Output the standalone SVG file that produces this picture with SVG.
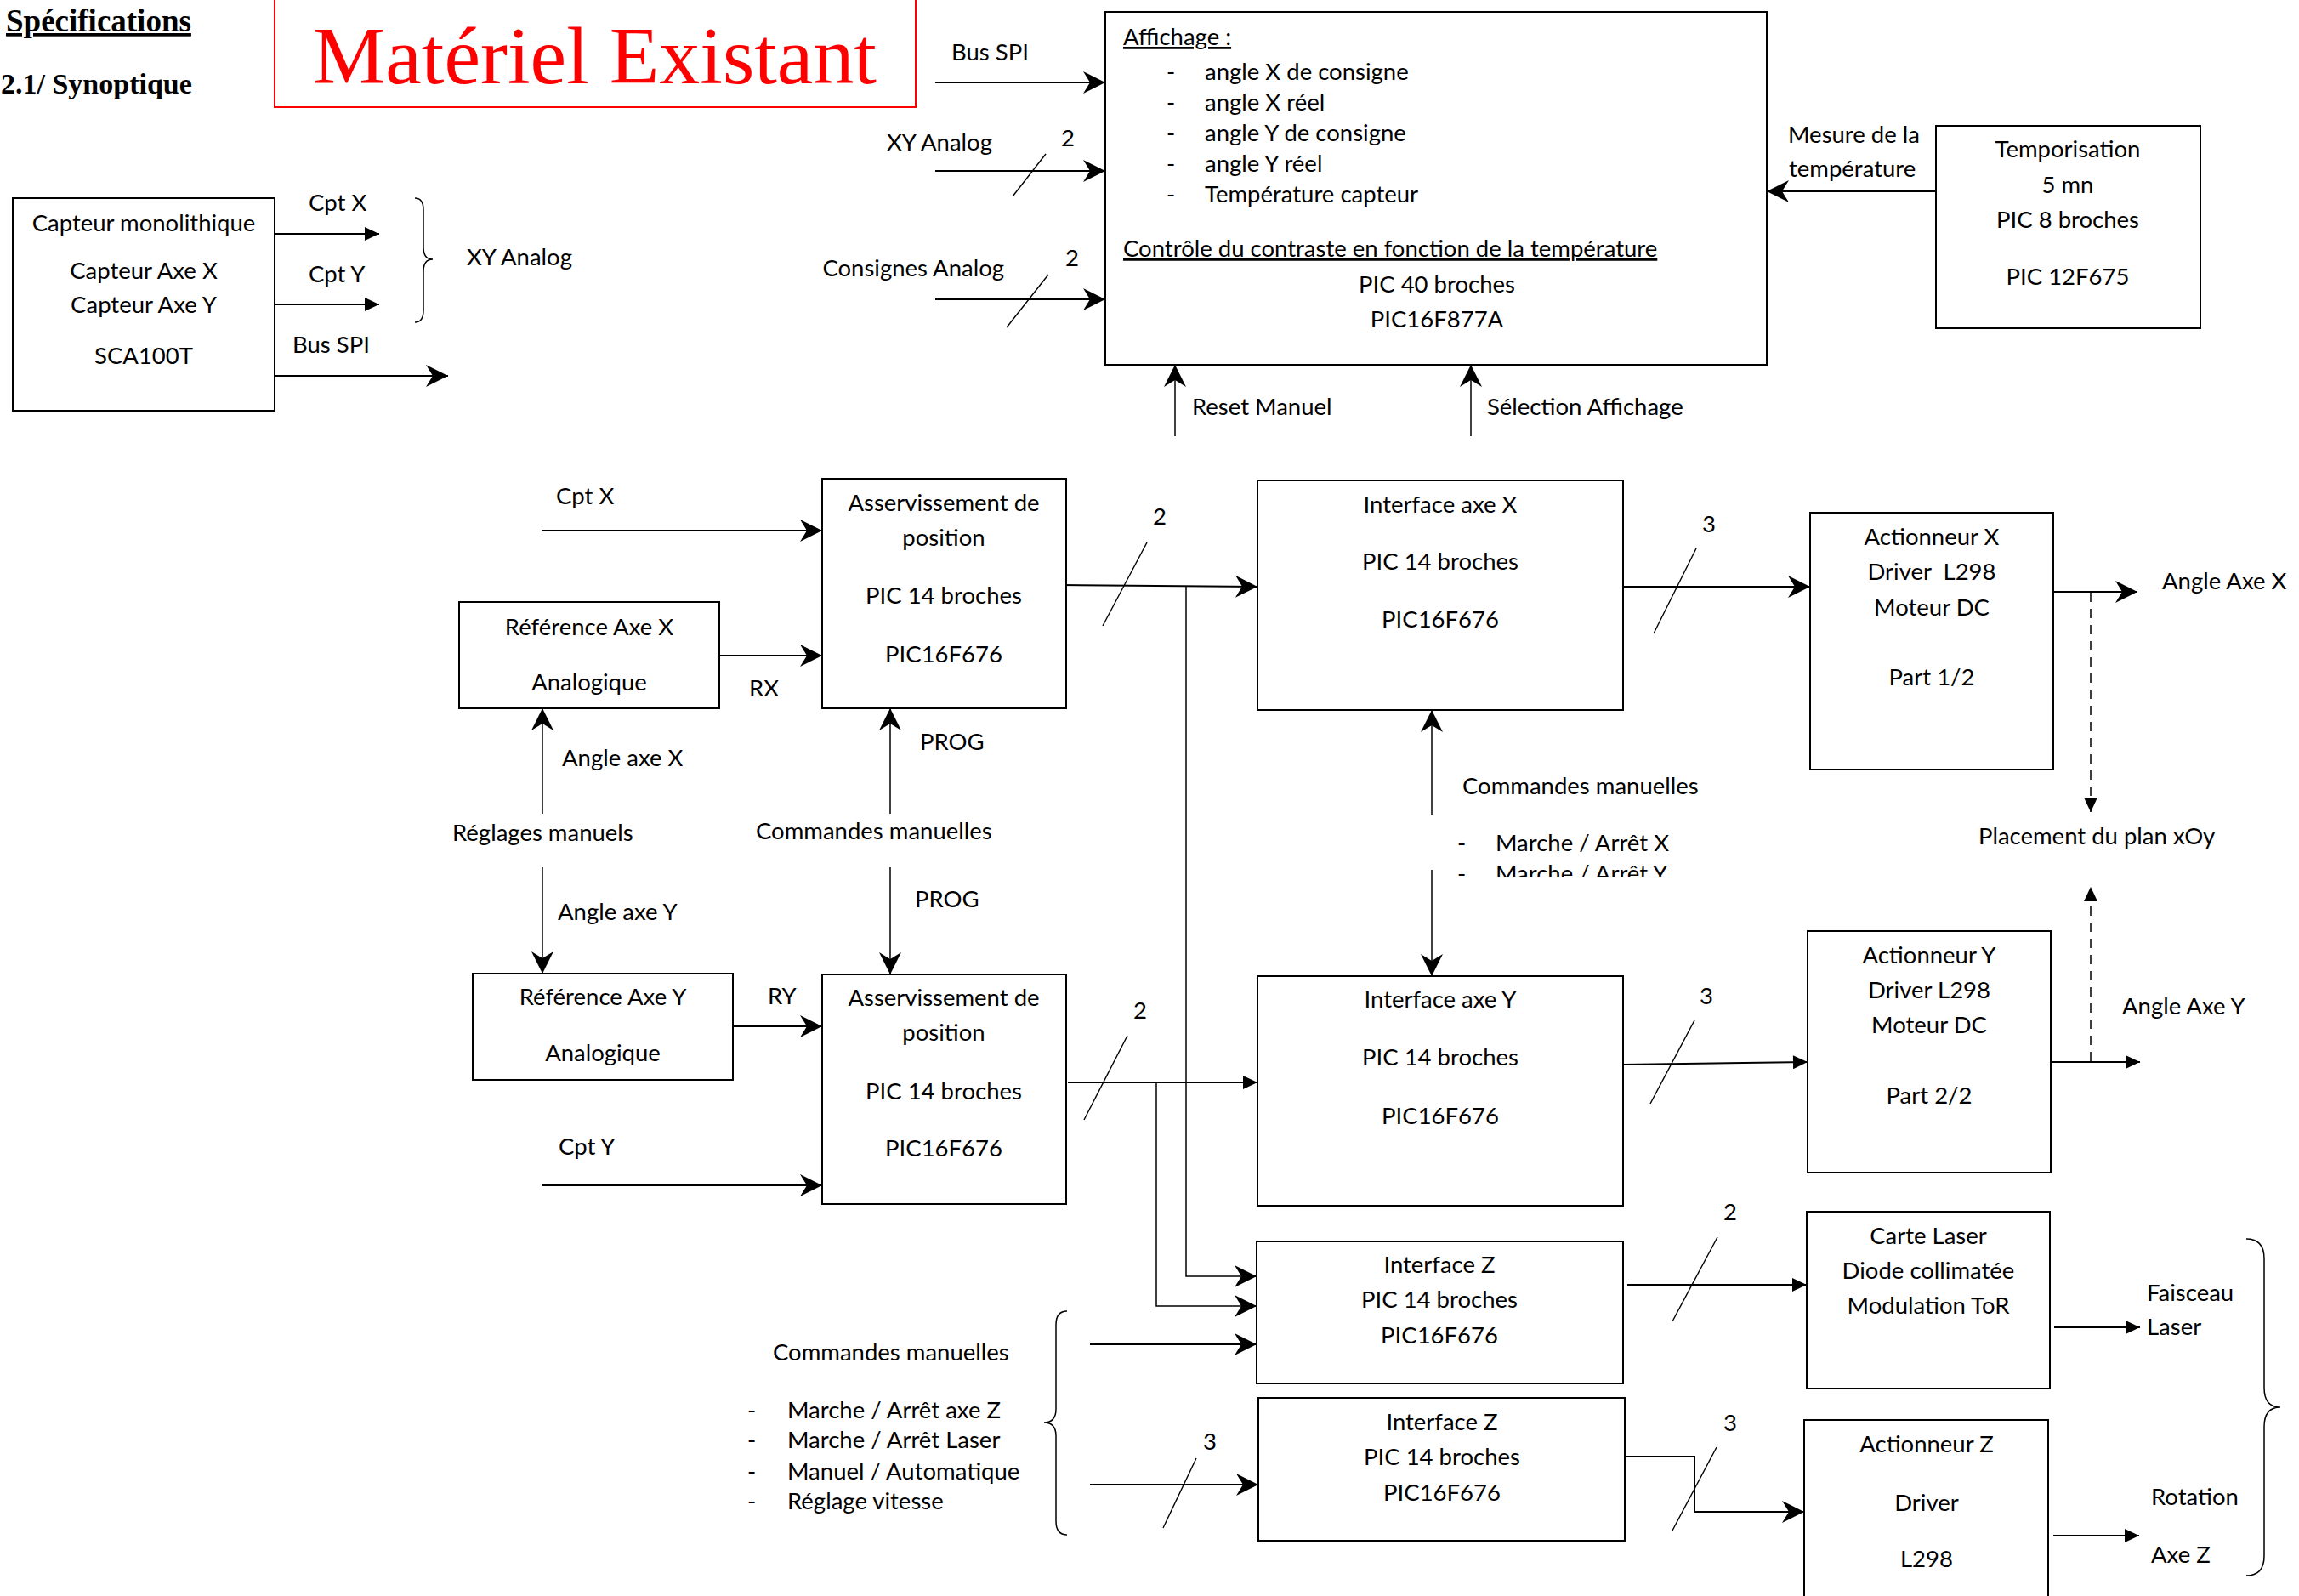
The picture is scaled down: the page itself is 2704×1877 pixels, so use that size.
<svg xmlns="http://www.w3.org/2000/svg" width="2704" height="1877" viewBox="0 0 2704 1877">
  <style>
    .bg { fill: #ffffff; }
    .box { fill: #ffffff; stroke: #000; stroke-width: 2; }
    .t { font-family: Lato, "Open Sans", "Liberation Sans", sans-serif; font-size: 27.5px; fill: #000; }
    .c { text-anchor: middle; }
    .u { text-decoration: underline; }
    .hdr { font-family: "Liberation Serif", "Times New Roman", serif; font-weight: bold; fill: #000; }
    .title { font-family: "Liberation Serif", "Times New Roman", serif; font-size: 96px; fill: #ff0000; }
    .ln { fill: none; stroke: #000; stroke-width: 2; }
    .thin { fill: none; stroke: #000; stroke-width: 1.5; }
    .sl { fill: none; stroke: #000; stroke-width: 1.4; }
    .dash { fill: none; stroke: #000; stroke-width: 1.5; stroke-dasharray: 11 8; }
    .st { marker-end: url(#stealth); }
    .tr { marker-end: url(#tri); }
  </style>
  <defs>
    <marker id="stealth" viewBox="-28 -14 30 28" markerWidth="30" markerHeight="28" refX="0" refY="0" orient="auto" markerUnits="userSpaceOnUse">
      <path d="M0,0 L-26,-13 L-18,0 L-26,13 Z" fill="#000"/>
    </marker>
    <marker id="tri" viewBox="-18 -9 20 18" markerWidth="20" markerHeight="18" refX="0" refY="0" orient="auto" markerUnits="userSpaceOnUse">
      <path d="M0,0 L-17,-8 L-17,8 Z" fill="#000"/>
    </marker>
    <clipPath id="clipList">
      <rect x="1700" y="990" width="400" height="41"/>
    </clipPath>
  </defs>

  <rect class="bg" x="0" y="0" width="2704" height="1877"/>

  <!-- page headings -->
  <g id="heading">
    <text class="hdr u" x="7" y="37" font-size="37">Spécifications</text>
    <text class="hdr" x="1" y="110" font-size="34">2.1/ Synoptique</text>
  </g>
  <g id="title">
    <rect x="323" y="-5" width="754" height="131" fill="none" stroke="#ff0000" stroke-width="2"/>
    <text class="title" x="368" y="98" textLength="663" lengthAdjust="spacingAndGlyphs">Matériel Existant</text>
  </g>

  <!-- connectors -->
  <g id="connectors">
    <line class="ln tr" x1="323" y1="275" x2="446" y2="275"/>
    <line class="ln tr" x1="323" y1="358" x2="446" y2="358"/>
    <line class="ln st" x1="323" y1="442" x2="527" y2="442"/>
    <path class="thin" d="M488,233 Q498,233 498,247 L498,291 Q498,305 509,305 Q498,305 498,319 L498,365 Q498,379 488,379"/>

    <line class="ln st" x1="1100" y1="97" x2="1300" y2="97"/>
    <line class="ln st" x1="1100" y1="201" x2="1300" y2="201"/>
    <line class="sl" x1="1191" y1="231" x2="1230" y2="181"/>
    <line class="ln st" x1="1100" y1="352" x2="1300" y2="352"/>
    <line class="sl" x1="1184" y1="385" x2="1233" y2="323"/>
    <line class="thin st" x1="1382" y1="513" x2="1382" y2="429"/>
    <line class="thin st" x1="1730" y1="513" x2="1730" y2="429"/>
    <line class="ln st" x1="2277" y1="225" x2="2078" y2="225"/>

    <line class="ln st" x1="638" y1="624" x2="967" y2="624"/>
    <line class="ln st" x1="846" y1="771" x2="967" y2="771"/>
    <line class="thin st" x1="638" y1="957" x2="638" y2="833"/>
    <line class="thin st" x1="1047" y1="957" x2="1047" y2="833"/>
    <line class="thin st" x1="638" y1="1020" x2="638" y2="1145"/>
    <line class="thin st" x1="1047" y1="1020" x2="1047" y2="1146"/>
    <line class="ln st" x1="862" y1="1207" x2="967" y2="1207"/>
    <line class="ln st" x1="638" y1="1394" x2="967" y2="1394"/>

    <line class="ln st" x1="1247" y1="688" x2="1479" y2="690"/>
    <line class="sl" x1="1297" y1="736" x2="1349" y2="638"/>
    <polyline class="thin st" points="1395,689 1395,1501 1478,1501"/>
    <line class="ln tr" x1="1256" y1="1273" x2="1479" y2="1273"/>
    <line class="sl" x1="1275" y1="1317" x2="1326" y2="1218"/>
    <polyline class="thin st" points="1360,1273 1360,1536 1478,1536"/>

    <line class="ln st" x1="1282" y1="1581" x2="1478" y2="1581"/>
    <line class="ln st" x1="1282" y1="1746" x2="1480" y2="1746"/>
    <line class="sl" x1="1368" y1="1797" x2="1407" y2="1715"/>
    <path class="thin" d="M1255,1542 Q1242,1542 1242,1558 L1242,1657 Q1242,1673 1228,1673 Q1242,1673 1242,1689 L1242,1789 Q1242,1805 1255,1805"/>

    <line class="ln st" x1="1909" y1="690" x2="2129" y2="690"/>
    <line class="sl" x1="1945" y1="745" x2="1995" y2="645"/>
    <line class="thin st" x1="1684" y1="959" x2="1684" y2="835"/>
    <line class="thin st" x1="1684" y1="1023" x2="1684" y2="1148"/>
    <line class="ln tr" x1="1909" y1="1252" x2="2126" y2="1249"/>
    <line class="sl" x1="1941" y1="1298" x2="1993" y2="1200"/>

    <line class="ln st" x1="2415" y1="696" x2="2514" y2="696"/>
    <line class="dash tr" x1="2459" y1="697" x2="2459" y2="955"/>
    <line class="dash tr" x1="2459" y1="1248" x2="2459" y2="1043"/>
    <line class="ln tr" x1="2412" y1="1249" x2="2517" y2="1249"/>

    <line class="ln tr" x1="1914" y1="1511" x2="2125" y2="1511"/>
    <line class="sl" x1="1967" y1="1554" x2="2020" y2="1455"/>
    <line class="ln tr" x1="2416" y1="1561" x2="2517" y2="1561"/>
    <polyline class="ln st" points="1911,1713 1993,1713 1993,1778 2122,1778"/>
    <line class="sl" x1="1967" y1="1800" x2="2019" y2="1702"/>
    <line class="ln tr" x1="2415" y1="1806" x2="2516" y2="1806"/>
    <path class="thin" d="M2642,1457 Q2663,1457 2663,1480 L2663,1632 Q2663,1655 2682,1655 Q2663,1655 2663,1678 L2663,1830 Q2663,1853 2642,1853"/>
  </g>

  <!-- signal labels -->
  <g id="labels">
    <text class="t" x="363" y="248">Cpt X</text>
    <text class="t" x="363" y="332">Cpt Y</text>
    <text class="t" x="344" y="415">Bus SPI</text>
    <text class="t" x="549" y="312">XY Analog</text>

    <text class="t" x="1119" y="71">Bus SPI</text>
    <text class="t" x="1043" y="177">XY Analog</text>
    <text class="t c" x="1256" y="172">2</text>
    <text class="t" x="1181" y="325" text-anchor="end">Consignes Analog</text>
    <text class="t c" x="1261" y="313">2</text>
    <text class="t" x="1402" y="488">Reset Manuel</text>
    <text class="t" x="1749" y="488">Sélection Affichage</text>
    <text class="t" x="2103" y="168">Mesure de la</text>
    <text class="t" x="2104" y="208">température</text>

    <text class="t" x="654" y="593">Cpt X</text>
    <text class="t" x="881" y="819">RX</text>
    <text class="t" x="661" y="901">Angle axe X</text>
    <text class="t" x="532" y="989">Réglages manuels</text>
    <text class="t" x="1082" y="882">PROG</text>
    <text class="t" x="889" y="987">Commandes manuelles</text>
    <text class="t" x="1076" y="1067">PROG</text>
    <text class="t" x="656" y="1082">Angle axe Y</text>
    <text class="t" x="903" y="1181">RY</text>
    <text class="t" x="657" y="1358">Cpt Y</text>
    <text class="t c" x="1364" y="617">2</text>
    <text class="t c" x="1341" y="1198">2</text>

    <text class="t" x="1720" y="934">Commandes manuelles</text>
    <text class="t" x="1714" y="1001">-</text>
    <text class="t" x="1759" y="1001">Marche / Arrêt X</text>
    <g clip-path="url(#clipList)">
      <text class="t" x="1714" y="1037">-</text>
      <text class="t" x="1759" y="1037">Marche / Arrêt Y</text>
    </g>
    <text class="t c" x="2010" y="626">3</text>
    <text class="t c" x="2007" y="1181">3</text>

    <text class="t" x="2543" y="693">Angle Axe X</text>
    <text class="t" x="2327" y="993">Placement du plan xOy</text>
    <text class="t" x="2496" y="1193">Angle Axe Y</text>

    <text class="t c" x="2035" y="1435">2</text>
    <text class="t c" x="2035" y="1683">3</text>
    <text class="t c" x="1423" y="1705">3</text>
    <text class="t" x="2525" y="1530">Faisceau</text>
    <text class="t" x="2525" y="1570">Laser</text>
    <text class="t" x="2530" y="1770">Rotation</text>
    <text class="t" x="2530" y="1838">Axe Z</text>

    <text class="t" x="909" y="1600">Commandes manuelles</text>
    <text class="t" x="879" y="1668">-</text>
    <text class="t" x="926" y="1668">Marche / Arrêt axe Z</text>
    <text class="t" x="879" y="1703">-</text>
    <text class="t" x="926" y="1703">Marche / Arrêt Laser</text>
    <text class="t" x="879" y="1740">-</text>
    <text class="t" x="926" y="1740">Manuel / Automatique</text>
    <text class="t" x="879" y="1775">-</text>
    <text class="t" x="926" y="1775">Réglage vitesse</text>
  </g>

  <!-- blocks -->
  <g id="capteur">
    <rect class="box" x="15" y="233" width="308" height="250"/>
    <text class="t c" x="169" y="272">Capteur monolithique</text>
    <text class="t c" x="169" y="328">Capteur Axe X</text>
    <text class="t c" x="169" y="368">Capteur Axe Y</text>
    <text class="t c" x="169" y="428">SCA100T</text>
  </g>

  <g id="affichage">
    <rect class="box" x="1300" y="14" width="778" height="415"/>
    <text class="t u" x="1321" y="53">Affichage :</text>
    <text class="t" x="1372" y="94">-</text>
    <text class="t" x="1417" y="94">angle X de consigne</text>
    <text class="t" x="1372" y="130">-</text>
    <text class="t" x="1417" y="130">angle X réel</text>
    <text class="t" x="1372" y="166">-</text>
    <text class="t" x="1417" y="166">angle Y de consigne</text>
    <text class="t" x="1372" y="202">-</text>
    <text class="t" x="1417" y="202">angle Y réel</text>
    <text class="t" x="1372" y="238">-</text>
    <text class="t" x="1417" y="238">Température capteur</text>
    <text class="t u" x="1321" y="302">Contrôle du contraste en fonction de la température</text>
    <text class="t c" x="1690" y="344">PIC 40 broches</text>
    <text class="t c" x="1690" y="385">PIC16F877A</text>
  </g>

  <g id="temporisation">
    <rect class="box" x="2277" y="148" width="311" height="238"/>
    <text class="t c" x="2432" y="185">Temporisation</text>
    <text class="t c" x="2432" y="227">5 mn</text>
    <text class="t c" x="2432" y="268">PIC 8 broches</text>
    <text class="t c" x="2432" y="335">PIC 12F675</text>
  </g>

  <g id="asservissement-x">
    <rect class="box" x="967" y="563" width="287" height="270"/>
    <text class="t c" x="1110" y="601">Asservissement de</text>
    <text class="t c" x="1110" y="642">position</text>
    <text class="t c" x="1110" y="710">PIC 14 broches</text>
    <text class="t c" x="1110" y="779">PIC16F676</text>
  </g>

  <g id="reference-x">
    <rect class="box" x="540" y="708" width="306" height="125"/>
    <text class="t c" x="693" y="747">Référence Axe X</text>
    <text class="t c" x="693" y="812">Analogique</text>
  </g>

  <g id="reference-y">
    <rect class="box" x="556" y="1145" width="306" height="125"/>
    <text class="t c" x="709" y="1182">Référence Axe Y</text>
    <text class="t c" x="709" y="1248">Analogique</text>
  </g>

  <g id="asservissement-y">
    <rect class="box" x="967" y="1146" width="287" height="270"/>
    <text class="t c" x="1110" y="1183">Asservissement de</text>
    <text class="t c" x="1110" y="1224">position</text>
    <text class="t c" x="1110" y="1293">PIC 14 broches</text>
    <text class="t c" x="1110" y="1360">PIC16F676</text>
  </g>

  <g id="interface-x">
    <rect class="box" x="1479" y="565" width="430" height="270"/>
    <text class="t c" x="1694" y="603">Interface axe X</text>
    <text class="t c" x="1694" y="670">PIC 14 broches</text>
    <text class="t c" x="1694" y="738">PIC16F676</text>
  </g>

  <g id="interface-y">
    <rect class="box" x="1479" y="1148" width="430" height="270"/>
    <text class="t c" x="1694" y="1185">Interface axe Y</text>
    <text class="t c" x="1694" y="1253">PIC 14 broches</text>
    <text class="t c" x="1694" y="1322">PIC16F676</text>
  </g>

  <g id="interface-z-laser">
    <rect class="box" x="1478" y="1460" width="431" height="167"/>
    <text class="t c" x="1693" y="1497">Interface Z</text>
    <text class="t c" x="1693" y="1538">PIC 14 broches</text>
    <text class="t c" x="1693" y="1580">PIC16F676</text>
  </g>

  <g id="interface-z-moteur">
    <rect class="box" x="1480" y="1644" width="431" height="168"/>
    <text class="t c" x="1696" y="1682">Interface Z</text>
    <text class="t c" x="1696" y="1723">PIC 14 broches</text>
    <text class="t c" x="1696" y="1765">PIC16F676</text>
  </g>

  <g id="actionneur-x">
    <rect class="box" x="2129" y="603" width="286" height="302"/>
    <text class="t c" x="2272" y="641">Actionneur X</text>
    <text class="t c" x="2272" y="682" xml:space="preserve">Driver  L298</text>
    <text class="t c" x="2272" y="724">Moteur DC</text>
    <text class="t c" x="2272" y="806">Part 1/2</text>
  </g>

  <g id="actionneur-y">
    <rect class="box" x="2126" y="1095" width="286" height="284"/>
    <text class="t c" x="2269" y="1133">Actionneur Y</text>
    <text class="t c" x="2269" y="1174">Driver L298</text>
    <text class="t c" x="2269" y="1215">Moteur DC</text>
    <text class="t c" x="2269" y="1298">Part 2/2</text>
  </g>

  <g id="carte-laser">
    <rect class="box" x="2125" y="1425" width="286" height="208"/>
    <text class="t c" x="2268" y="1463">Carte Laser</text>
    <text class="t c" x="2268" y="1504">Diode collimatée</text>
    <text class="t c" x="2268" y="1545">Modulation ToR</text>
  </g>

  <g id="actionneur-z">
    <rect class="box" x="2122" y="1670" width="287" height="240"/>
    <text class="t c" x="2266" y="1708">Actionneur Z</text>
    <text class="t c" x="2266" y="1777">Driver</text>
    <text class="t c" x="2266" y="1843">L298</text>
  </g>
</svg>
